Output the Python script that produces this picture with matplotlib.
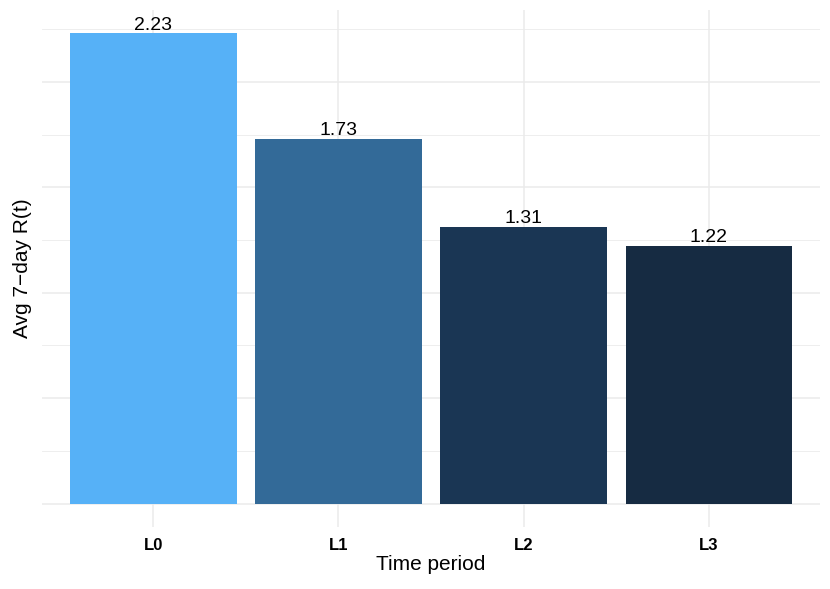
import matplotlib
matplotlib.use("Agg")
import matplotlib.pyplot as plt
import numpy as np

periods = ["L0", "L1", "L2", "L3"]
avg_rt = [2.23, 1.73, 1.31, 1.22]
bar_colors = ["#56B1F7", "#336A98", "#1A3654", "#162B42"]

plt.rcParams["font.family"] = ["Liberation Sans", "DejaVu Sans"]

fig = plt.figure(figsize=(8.3, 5.89), dpi=100)
ax = fig.add_axes([42 / 830, 62 / 589, 778 / 830, 517 / 589])

x = np.arange(1, len(periods) + 1)
ax.bar(x, avg_rt, width=0.9, color=bar_colors, zorder=2)

for xi, v in zip(x, avg_rt):
    ax.text(xi, v, f"{v:.2f}", ha="center", va="bottom", fontsize=14, zorder=3)

ymax = max(avg_rt)
ax.set_xlim(0.4, 4.6)
ax.set_ylim(-0.05 * ymax, ymax * 1.05)

# grid like theme_minimal
ax.set_yticks(np.arange(0, 2.01, 0.5))
ax.set_yticks(np.arange(0.25, 2.3, 0.5), minor=True)
ax.set_xticks(x)
ax.set_xticklabels(periods, fontsize=12, fontweight="bold")
ax.set_yticklabels([])
ax.grid(axis="y", which="major", color="#EBEBEB", linewidth=1.1, zorder=0)
ax.grid(axis="y", which="minor", color="#EBEBEB", linewidth=0.6, zorder=0)
ax.grid(axis="x", which="major", color="#EBEBEB", linewidth=1.1, zorder=0)
ax.tick_params(axis="both", which="both", length=0, pad=8)
for s in ax.spines.values():
    s.set_visible(False)

ax.set_xlabel("Time period", fontsize=15)
ax.set_ylabel("Avg 7\u2212day R(t)", fontsize=15)
ax.xaxis.set_label_coords(0.5, -0.054)
ax.yaxis.set_label_coords(-0.013, 0.5)

fig.savefig("out.png", dpi=100)
